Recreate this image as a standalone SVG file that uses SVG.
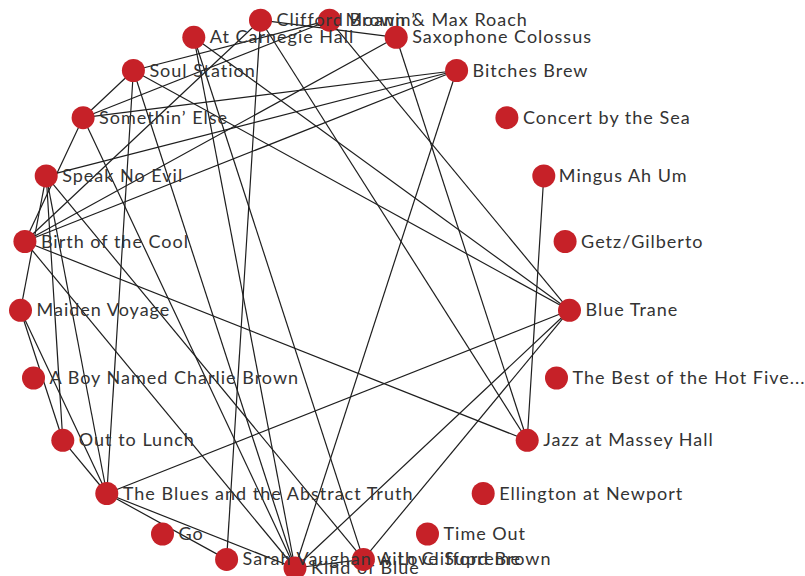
<svg xmlns="http://www.w3.org/2000/svg" width="805" height="576" viewBox="0 0 805 576">
<style>
.bg{fill:#ffffff}
.e line{stroke:#1e1e1e;stroke-width:1.2}
.n circle{fill:#c62128}
.n text{font-family:Lato,"Open Sans","Liberation Sans",sans-serif;font-size:18px;letter-spacing:1px;fill:#333333}
</style>
<rect class="bg" x="0" y="0" width="805" height="576"/>
<g id="edges" class="e">
<line x1="260.5" y1="20.2" x2="226.6" y2="559.4"/>
<line x1="260.5" y1="20.2" x2="396.2" y2="37.3"/>
<line x1="260.5" y1="20.2" x2="24.9" y2="241.5"/>
<line x1="260.5" y1="20.2" x2="527.2" y2="440.3"/>
<line x1="396.2" y1="37.3" x2="24.9" y2="241.5"/>
<line x1="396.2" y1="37.3" x2="527.2" y2="440.3"/>
<line x1="24.9" y1="241.5" x2="527.2" y2="440.3"/>
<line x1="329.5" y1="20.2" x2="133.4" y2="70.5"/>
<line x1="329.5" y1="20.2" x2="83.1" y2="117.7"/>
<line x1="133.4" y1="70.5" x2="83.1" y2="117.7"/>
<line x1="329.5" y1="20.2" x2="569.5" y2="310.3"/>
<line x1="193.8" y1="37.3" x2="569.5" y2="310.3"/>
<line x1="193.8" y1="37.3" x2="363.4" y2="559.4"/>
<line x1="193.8" y1="37.3" x2="295" y2="568"/>
<line x1="569.5" y1="310.3" x2="363.4" y2="559.4"/>
<line x1="569.5" y1="310.3" x2="295" y2="568"/>
<line x1="363.4" y1="559.4" x2="295" y2="568"/>
<line x1="456.6" y1="70.5" x2="83.1" y2="117.7"/>
<line x1="456.6" y1="70.5" x2="24.9" y2="241.5"/>
<line x1="456.6" y1="70.5" x2="295" y2="568"/>
<line x1="83.1" y1="117.7" x2="24.9" y2="241.5"/>
<line x1="83.1" y1="117.7" x2="295" y2="568"/>
<line x1="24.9" y1="241.5" x2="295" y2="568"/>
<line x1="456.6" y1="70.5" x2="46.2" y2="175.9"/>
<line x1="133.4" y1="70.5" x2="569.5" y2="310.3"/>
<line x1="133.4" y1="70.5" x2="106.8" y2="493.5"/>
<line x1="133.4" y1="70.5" x2="295" y2="568"/>
<line x1="569.5" y1="310.3" x2="106.8" y2="493.5"/>
<line x1="106.8" y1="493.5" x2="295" y2="568"/>
<line x1="46.2" y1="175.9" x2="20.5" y2="310.3"/>
<line x1="46.2" y1="175.9" x2="62.8" y2="440.3"/>
<line x1="46.2" y1="175.9" x2="106.8" y2="493.5"/>
<line x1="20.5" y1="310.3" x2="62.8" y2="440.3"/>
<line x1="20.5" y1="310.3" x2="106.8" y2="493.5"/>
<line x1="62.8" y1="440.3" x2="106.8" y2="493.5"/>
<line x1="46.2" y1="175.9" x2="363.4" y2="559.4"/>
<line x1="106.8" y1="493.5" x2="226.6" y2="559.4"/>
<line x1="543.8" y1="175.9" x2="527.2" y2="440.3"/>
</g>
<g id="nodes" class="n">
<g id="kind-of-blue"><circle cx="295" cy="568" r="11.5"/><text x="311" y="574">Kind of Blue</text></g>
<g id="a-love-supreme"><circle cx="363.4" cy="559.4" r="11.5"/><text x="379.4" y="565.4">A Love Supreme</text></g>
<g id="time-out"><circle cx="427.5" cy="534" r="11.5"/><text x="443.5" y="540">Time Out</text></g>
<g id="ellington-at-newport"><circle cx="483.2" cy="493.5" r="11.5"/><text x="499.2" y="499.5">Ellington at Newport</text></g>
<g id="jazz-at-massey-hall"><circle cx="527.2" cy="440.3" r="11.5"/><text x="543.2" y="446.3">Jazz at Massey Hall</text></g>
<g id="hot-five"><circle cx="556.5" cy="378" r="11.5"/><text x="572.5" y="384">The Best of the Hot Five...</text></g>
<g id="blue-trane"><circle cx="569.5" cy="310.3" r="11.5"/><text x="585.5" y="316.3">Blue Trane</text></g>
<g id="getz-gilberto"><circle cx="565.1" cy="241.5" r="11.5"/><text x="581.1" y="247.5">Getz/Gilberto</text></g>
<g id="mingus-ah-um"><circle cx="543.8" cy="175.9" r="11.5"/><text x="558.8" y="181.9">Mingus Ah Um</text></g>
<g id="concert-by-the-sea"><circle cx="506.9" cy="117.7" r="11.5"/><text x="522.9" y="123.7">Concert by the Sea</text></g>
<g id="bitches-brew"><circle cx="456.6" cy="70.5" r="11.5"/><text x="472.6" y="76.5">Bitches Brew</text></g>
<g id="saxophone-colossus"><circle cx="396.2" cy="37.3" r="11.5"/><text x="412.2" y="43.3">Saxophone Colossus</text></g>
<g id="moanin"><circle cx="329.5" cy="20.2" r="11.5"/><text x="345.5" y="26.2">Moanin’</text></g>
<g id="clifford-brown-max-roach"><circle cx="260.5" cy="20.2" r="11.5"/><text x="276.5" y="26.2">Clifford Brown &amp; Max Roach</text></g>
<g id="at-carnegie-hall"><circle cx="193.8" cy="37.3" r="11.5"/><text x="209.8" y="43.3">At Carnegie Hall</text></g>
<g id="soul-station"><circle cx="133.4" cy="70.5" r="11.5"/><text x="149.4" y="76.5">Soul Station</text></g>
<g id="somethin-else"><circle cx="83.1" cy="117.7" r="11.5"/><text x="99.1" y="123.7">Somethin’ Else</text></g>
<g id="speak-no-evil"><circle cx="46.2" cy="175.9" r="11.5"/><text x="62.2" y="181.9">Speak No Evil</text></g>
<g id="birth-of-the-cool"><circle cx="24.9" cy="241.5" r="11.5"/><text x="40.9" y="247.5">Birth of the Cool</text></g>
<g id="maiden-voyage"><circle cx="20.5" cy="310.3" r="11.5"/><text x="36.5" y="316.3">Maiden Voyage</text></g>
<g id="charlie-brown"><circle cx="33.5" cy="378" r="11.5"/><text x="49.5" y="384">A Boy Named Charlie Brown</text></g>
<g id="out-to-lunch"><circle cx="62.8" cy="440.3" r="11.5"/><text x="78.8" y="446.3">Out to Lunch</text></g>
<g id="blues-abstract-truth"><circle cx="106.8" cy="493.5" r="11.5"/><text x="122.8" y="499.5">The Blues and the Abstract Truth</text></g>
<g id="go"><circle cx="162.5" cy="534" r="11.5"/><text x="178.5" y="540">Go</text></g>
<g id="sarah-vaughan"><circle cx="226.6" cy="559.4" r="11.5"/><text x="242.6" y="565.4">Sarah Vaughan with Clifford Brown</text></g>
</g>
</svg>
